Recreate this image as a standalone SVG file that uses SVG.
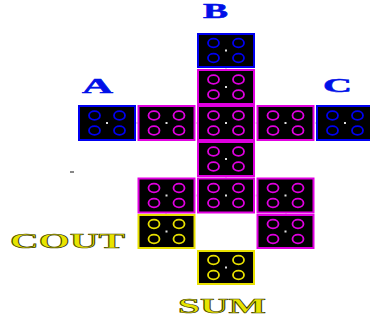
<svg xmlns="http://www.w3.org/2000/svg" width="370" height="321" viewBox="0 0 370 321">
<style>
.cell{stroke-width:2}
.cell rect{fill:#000}
.mag{stroke:#e000e0}
.blu{stroke:#0000f0}
.yel{stroke:#e8e000}
.dot{fill:#e0e0e0}
.lbl{font-family:"Liberation Serif",serif;font-weight:bold}
.blue{fill:#0010e8;stroke:#0010e8;stroke-width:0.5}
.yt{fill:#e8e400;stroke:#404000;stroke-width:0.6}
</style>
<defs>
<g id="pips" fill="none" stroke-width="1.8">
<ellipse cx="-12.5" cy="-7.5" rx="5.5" ry="4.3"/>
<ellipse cx="12.5" cy="-7.5" rx="5.5" ry="4.3"/>
<ellipse cx="-12.5" cy="7.5" rx="5.5" ry="4.3"/>
<ellipse cx="12.5" cy="7.5" rx="5.5" ry="4.3"/>
<rect x="-1" y="-1" width="2" height="2" fill="#ddd" stroke="none"/>
</g>
</defs>
<rect width="370" height="321" fill="#fff"/>
<g id="connectors">
<rect class="dot" x="225" y="67.5" width="2" height="2"/>
<rect class="dot" x="225" y="104" width="2" height="2"/>
<rect class="dot" x="225" y="140.5" width="2" height="2"/>
<rect class="dot" x="225" y="176.5" width="2" height="2"/>
<rect class="dot" x="136" y="122" width="2" height="2"/>
<rect class="dot" x="196" y="122" width="2" height="2"/>
<rect class="dot" x="255.5" y="122" width="2" height="2"/>
<rect class="dot" x="315" y="122" width="2" height="2"/>
<rect class="dot" x="196" y="194.5" width="2" height="2"/>
<rect class="dot" x="255.5" y="194.5" width="2" height="2"/>
<rect class="dot" x="165" y="213" width="2" height="2"/>
<rect class="dot" x="285" y="213" width="2" height="2"/>
</g>
<g id="B-cell" class="cell blu"><rect x="198" y="34" width="56" height="33"/><use href="#pips" x="226" y="50.5"/></g>
<g id="r1c2" class="cell mag"><rect x="198" y="70" width="56" height="34"/><use href="#pips" x="226" y="87"/></g>
<g id="A-cell" class="cell blu"><rect x="79" y="106" width="56" height="34"/><use href="#pips" x="107" y="123"/></g>
<g id="r2c1" class="cell mag"><rect x="138.5" y="106" width="56" height="34"/><use href="#pips" x="166.5" y="123"/></g>
<g id="r2c2" class="cell mag"><rect x="198" y="106" width="56" height="34"/><use href="#pips" x="226" y="123"/></g>
<g id="r2c3" class="cell mag"><rect x="257.5" y="106" width="56" height="34"/><use href="#pips" x="285.5" y="123"/></g>
<g id="C-cell" class="cell blu"><rect x="317" y="106" width="56" height="34"/><use href="#pips" x="345" y="123"/></g>
<g id="r3c2" class="cell mag"><rect x="198" y="142" width="56" height="34"/><use href="#pips" x="226" y="159"/></g>
<g id="r4c1" class="cell mag"><rect x="138.5" y="178.5" width="56" height="34"/><use href="#pips" x="166.5" y="195.5"/></g>
<g id="r4c2" class="cell mag"><rect x="198" y="178.5" width="56" height="34"/><use href="#pips" x="226" y="195.5"/></g>
<g id="r4c3" class="cell mag"><rect x="257.5" y="178.5" width="56" height="34"/><use href="#pips" x="285.5" y="195.5"/></g>
<g id="COUT-cell" class="cell yel"><rect x="138.5" y="215" width="56" height="33"/><use href="#pips" x="166.5" y="231.5"/></g>
<g id="r5c3" class="cell mag"><rect x="257.5" y="215" width="56" height="33"/><use href="#pips" x="285.5" y="231.5"/></g>
<g id="SUM-cell" class="cell yel"><rect x="198" y="251" width="56" height="33"/><use href="#pips" x="226" y="267.5"/></g>
<rect x="70" y="171" width="4" height="2" fill="#888"/>
<g id="labels">
<text class="lbl blue" x="203" y="18" font-size="20" textLength="25" lengthAdjust="spacingAndGlyphs">B</text>
<text class="lbl blue" x="82" y="93" font-size="21" textLength="31" lengthAdjust="spacingAndGlyphs">A</text>
<text class="lbl blue" x="323" y="92" font-size="19" textLength="29" lengthAdjust="spacingAndGlyphs">C</text>
<text class="lbl yt" x="10" y="248" font-size="22" textLength="115" lengthAdjust="spacingAndGlyphs">COUT</text>
<text class="lbl yt" x="178" y="313" font-size="21" textLength="88" lengthAdjust="spacingAndGlyphs">SUM</text>
</g>
</svg>
